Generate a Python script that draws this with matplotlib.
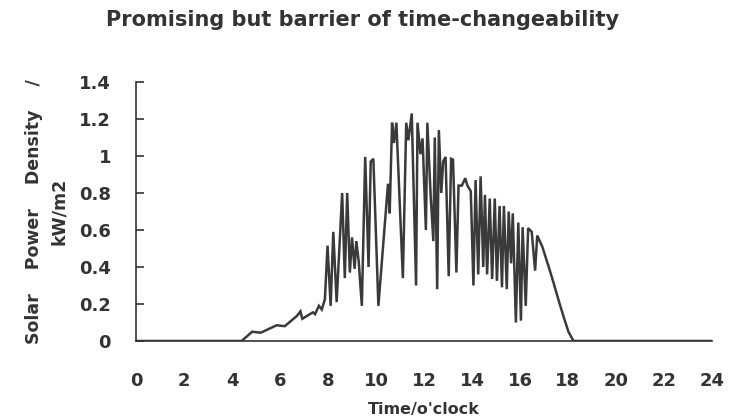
import matplotlib
matplotlib.use('Agg')
import matplotlib.pyplot as plt

# Hora del día (h) y densidad de potencia solar (kW/m2)
hours = [0, 4.4, 4.84, 5.2, 5.86, 6.2, 6.7, 6.85, 6.93, 7.37, 7.46, 7.62,
         7.74, 7.87, 7.98, 8.11, 8.22, 8.36, 8.59, 8.7, 8.8, 8.91, 9.0,
         9.11, 9.18, 9.28, 9.41, 9.55, 9.69, 9.78, 9.89, 10.1, 10.5, 10.57,
         10.67, 10.75, 10.85, 11.12, 11.26, 11.35, 11.49, 11.67, 11.73,
         11.85, 11.94, 12.08, 12.14, 12.28, 12.39, 12.45, 12.55, 12.62,
         12.72, 12.8, 12.9, 13.03, 13.13, 13.21, 13.35, 13.44, 13.58, 13.72,
         13.81, 13.95, 14.06, 14.15, 14.26, 14.36, 14.47, 14.54, 14.63,
         14.74, 14.84, 14.95, 15.04, 15.15, 15.25, 15.33, 15.45, 15.53,
         15.63, 15.7, 15.83, 15.93, 16.04, 16.11, 16.24, 16.34, 16.49,
         16.63, 16.72, 16.93, 17.2, 17.41, 17.61, 17.82, 18.02, 18.23, 24]
power = [0, 0, 0.05, 0.045, 0.085, 0.08, 0.135, 0.16, 0.12, 0.155, 0.145,
         0.19, 0.17, 0.225, 0.515, 0.19, 0.59, 0.21, 0.80, 0.34, 0.80, 0.37,
         0.56, 0.39, 0.54, 0.43, 0.19, 0.995, 0.40, 0.97, 0.985, 0.19, 0.85,
         0.69, 1.18, 1.07, 1.18, 0.34, 1.18, 1.085, 1.23, 0.30, 1.18, 1.01,
         1.095, 0.60, 1.18, 0.78, 0.54, 1.10, 0.28, 1.14, 0.80, 0.97, 0.995,
         0.35, 0.985, 0.98, 0.37, 0.84, 0.84, 0.88, 0.84, 0.81, 0.30, 0.87,
         0.36, 0.89, 0.40, 0.79, 0.36, 0.77, 0.335, 0.77, 0.325, 0.73, 0.29,
         0.73, 0.28, 0.70, 0.42, 0.69, 0.10, 0.64, 0.11, 0.615, 0.19, 0.61,
         0.59, 0.38, 0.57, 0.51, 0.40, 0.31, 0.22, 0.13, 0.05, 0, 0]
x_ticks = list(range(0, 25, 2))
y_ticks = [0, 0.2, 0.4, 0.6, 0.8, 1, 1.2, 1.4]
y_tick_labels = ['0', '0.2', '0.4', '0.6', '0.8', '1', '1.2', '1.4']

ink = '#333333'

fig = plt.figure(figsize=(7.29, 4.16), dpi=100)
ax = fig.add_axes([0.1866, 0.1803, 0.790, 0.6226])

ax.plot(hours, power, color='#3a3a3a', linewidth=1.8, solid_joinstyle='miter')

ax.set_xlim(0, 24)
ax.set_ylim(0, 1.4)
ax.set_xticks(x_ticks)
ax.set_yticks(y_ticks)
ax.set_yticklabels(y_tick_labels)

for lado in ['top', 'right']:
    ax.spines[lado].set_visible(False)
for lado in ['left', 'bottom']:
    ax.spines[lado].set_color(ink)
    ax.spines[lado].set_linewidth(1.2)

ax.tick_params(axis='y', direction='in', length=6, width=1.2, color=ink,
               pad=18, labelsize=13, labelcolor=ink)
ax.tick_params(axis='x', length=0, pad=22, labelsize=13, labelcolor=ink)
for lbl in ax.get_xticklabels() + ax.get_yticklabels():
    lbl.set_fontweight('bold')

ax.set_xlabel("Time/o'clock", fontsize=11.5, fontweight='bold', color=ink,
              labelpad=9)
ax.set_ylabel('Solar    Power    Density    /\nkW/m2', fontsize=12.5,
              fontweight='bold', color=ink, labelpad=8, linespacing=1.5)

fig.text(0.497, 0.952, 'Promising but barrier of time-changeability',
         ha='center', va='center', fontsize=15, fontweight='bold', color=ink)

plt.savefig('out.png', dpi=100)
plt.close()
